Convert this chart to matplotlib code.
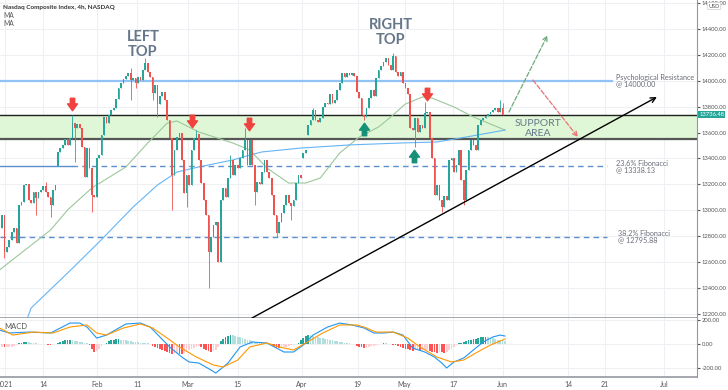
import matplotlib
matplotlib.use("Agg")
import matplotlib.pyplot as plt
from matplotlib.path import Path
from matplotlib.transforms import blended_transform_factory

# ---------------- data (4h candles, Nasdaq Composite) ----------------
closes = [12963, 12678, 12716, 12770, 12832, 12863, 12747, 13040, 13064, 13195,
          13203, 13079, 13056, 13141, 13094, 13141, 13156, 13187, 13141, 13102,
          13040, 13156, 13195, 13450, 13480, 13504, 13550, 13504, 13558, 13673,
          13635, 13666, 13635, 13488, 13257, 13480, 13326, 13118, 13102, 13403,
          13426, 13581, 13720, 13673, 13735, 13774, 13789, 13859, 13944, 13982,
          14013, 14036, 14059, 14005, 14021, 13982, 14029, 14005, 14083, 14137,
          14067, 14029, 13905, 13967, 13820, 13882, 13913, 13851, 13697, 13558,
          13272, 13465, 13565, 13596, 13388, 13133, 13272, 13195, 13465, 13558,
          13589, 13388, 13210, 13079, 12963, 12678, 12793, 12886, 12909, 12600,
          13079, 13172, 13102, 13249, 13388, 13272, 13349, 13326, 13403, 13465,
          13542, 13349, 13542, 13349, 13141, 13218, 13203, 13295, 13388, 13295,
          13249, 13118, 12963, 12824, 12909, 12979, 13040, 13118, 13056, 13033,
          13079, 13210, 13272, 13249, 13442, 13465, 13658, 13697, 13774, 13697,
          13681, 13712, 13797, 13828, 13820, 13897, 13828, 13851, 13928, 13982,
          14059, 14029, 14059, 14044, 14059, 14036, 13913, 13866, 13735, 13720,
          13789, 13866, 13928, 13882, 14021, 14083, 14113, 14144, 14175, 14121,
          14083, 14191, 14067, 14036, 14067, 13982, 13944, 13897, 13635, 13619,
          13712, 13604, 13658, 13635, 13751, 13758, 13558, 13403, 13118, 13195,
          13079, 13025, 13110, 13079, 13388, 13403, 13295, 13349, 13465, 13233,
          13079, 13311, 13465, 13542, 13504, 13465, 13658, 13697, 13712, 13727,
          13743, 13758, 13774, 13789, 13758, 13789, 13735, 13736.48]
open_gaps = {0: 12863, 23: 13341, 124: 13403, 126: 13581}
wick_highs = {18: 13218, 29: 13735, 33: 13619, 53: 14098, 59: 14175, 80: 13619,
              94: 13426, 100: 13635, 128: 13789, 161: 14214, 168: 13789,
              174: 13836, 205: 13851, 206: 13828}
wick_lows = {1: 12631, 14: 12963, 20: 12948, 30: 13372, 37: 12986, 53: 13851,
             55: 13944, 62: 13851, 64: 13720, 70: 13002, 76: 13025, 85: 12400,
             104: 13040, 113: 12793, 119: 12925, 149: 13697, 170: 13488,
             181: 12986, 190: 13040}

# moving averages (bar index, price)
ma_green_x = [-1, 20, 27, 37, 51, 60, 68, 72, 81, 95, 102, 109, 118, 125, 131,
              139, 147, 155, 160, 166, 173, 177, 186, 194, 207]
ma_green_y = [12539, 12847, 13002, 13172, 13334, 13519, 13673, 13689, 13604,
              13519, 13465, 13326, 13210, 13210, 13249, 13442, 13565, 13643,
              13720, 13820, 13874, 13866, 13797, 13720, 13619]
ma_blue_x = [10.5, 12, 27, 40, 54, 64, 72, 81, 95, 102, 107, 123, 143, 164, 179,
             191, 207]
ma_blue_y = [12168, 12245, 12515, 12755, 13025, 13195, 13295, 13334, 13388,
             13426, 13450, 13480, 13504, 13519, 13527, 13565, 13619]

# MACD pane
macd_x = [-1, 3, 11, 20, 28, 32, 35, 39, 43, 51, 57, 61, 65, 69, 74, 77, 81, 86,
          88, 93, 98, 103, 109, 113, 116, 120, 124, 128, 134, 139, 144, 149, 153,
          157, 161, 165, 169, 174, 178, 181, 183, 186, 190, 194, 198, 202, 205, 207]
macd_y = [114, 89, 97, 89, 172, 172, 139, 47, 72, 164, 172, 139, 56, -27, -111,
          -152, -161, -219, -244, -161, -27, 14, 6, -36, -69, -69, -11, 72, 139,
          172, 156, 131, 89, 89, 97, 72, -36, -69, -111, -161, -202, -152, -119,
          -52, 14, 56, 72, 64]
signal_x = [-1, 4.5, 13, 21, 28, 35, 39, 43, 50, 57, 62, 68, 73, 80, 87, 91, 97,
            102, 109, 114, 120, 125, 132, 139, 146, 149, 154, 161, 167, 172, 179,
            185, 190, 195, 201, 207]
signal_y = [131, 72, 97, 89, 139, 156, 89, 72, 131, 164, 131, 47, -27, -111, -177,
            -194, -136, -27, 6, -27, -52, 6, 89, 156, 156, 139, 97, 97, 47, -27,
            -111, -152, -136, -77, -11, 39]
hist = [-25, -30, -30, -28, -25, -20, -10, 5, 10, 15, 17, 12, 8, 3, 2, 1, 0, -2,
        -5, -8, -10, -6, -2, 8, 15, 22, 28, 30, 31, 28, 25, 22, 18, 15, 10, 5,
        -10, -40, -70, -60, -40, -20, 0, 10, 20, 28, 33, 36, 36, 34, 30, 27, 24,
        21, 18, 15, 12, 9, 6, 4, 2, -5, -15, -25, -35, -45, -55, -62, -67, -75,
        -83, -80, -78, -83, -85, -75, -65, -55, -45, -35, -25, -20, -30, -45,
        -55, -62, -67, -60, -50, -30, 20, 40, 55, 65, 72, 70, 65, 60, 55, 48,
        40, 35, 28, 20, 12, 8, 4, 2, 0, -2, -5, -15, -25, -35, -39, -35, -30,
        -25, -18, -12, -8, -3, 10, 30, 50, 65, 72, 70, 65, 60, 55, 50, 45, 40,
        36, 32, 28, 24, 20, 16, 12, 9, 6, 3, 1, -5, -15, -25, -30, -39, -35,
        -30, -22, -15, -10, -5, 0, 3, 2, -2, -5, -8, -12, -18, -25, -32, -40,
        -45, -55, -58, -55, -55, -60, -58, -55, -50, -60, -68, -72, -75, -70,
        -72, -75, -70, -55, -40, -25, -10, 5, 10, 15, 22, 30, 35, 36, 38, 45,
        52, 58, 58, 55, 50, 45, 40, 35, 30, 28, 25]

# levels
resistance = 14000.00
support_top = 13736.48
support_bottom = 13550
fib236 = 13338.13
fib382 = 12795.88

tick_pos = [1.2, 17, 39, 55.6, 76.5, 97, 123.5, 146.5, 165.7, 185.6, 206, 233,
            248, 272.4]
tick_lab = ["2021", "14", "Feb", "11", "Mar", "15", "Apr", "19", "May", "17",
            "Jun", "14", "21", "Jul"]

UP = "#26a69a"
DOWN = "#ef5350"
TXT = "#66778a"
plt.rcParams["font.family"] = ["Lato", "DejaVu Sans"]

fig = plt.figure(figsize=(7.28, 3.9), dpi=100)
ax = fig.add_axes([0, 72 / 390, 697 / 728, 318 / 390])
ax2 = fig.add_axes([0, 13 / 390, 697 / 728, 59 / 390], sharex=ax)

xmin, xmax = -0.8, 286
ax.set_xlim(xmin, xmax)
ax.set_ylim(12168, 14623)
ax2.set_ylim(-277, 214)

for a in (ax, ax2):
    for t in tick_pos:
        a.axvline(t, color="#eef0f4", lw=0.8, zorder=0)
    for s in ("top", "left"):
        a.spines[s].set_visible(False)
    a.spines["right"].set_color("#9598a1")
    a.spines["bottom"].set_color("#9598a1")
    a.spines["bottom"].set_linewidth(1.2)
    a.yaxis.tick_right()
    a.tick_params(axis="y", labelsize=4.2, colors="#555555", length=2, pad=1.5)
for p in range(12200, 14601, 200):
    ax.axhline(p, color="#eef0f4", lw=0.8, zorder=0)
for p in (-200, 0, 200):
    ax2.axhline(p, color="#eef0f4", lw=0.8, zorder=0)

ax.set_yticks(list(range(12200, 14601, 200)))
ax.set_yticklabels(["%.2f" % v for v in range(12200, 14601, 200)])
ax.tick_params(axis="x", length=0, labelbottom=False)
ax2.set_yticks([-200, 0, 200])
ax2.set_yticklabels(["-200.00", "0.00", "200.00"])
ax2.set_xticks(tick_pos)
ax2.set_xticklabels(tick_lab)
ax2.tick_params(axis="x", labelsize=5, colors="#555555", length=0, pad=3)

# support area
ax.axhspan(support_bottom, support_top, color="#dff7d6", zorder=1)
ax.axhline(support_top, color="#222222", lw=1.0, zorder=2)
ax.axhline(support_bottom, color="#555555", lw=1.6, zorder=2)

# horizontal levels
lv_end = 251
ax.plot([xmin, lv_end], [resistance, resistance], color="#90c2f5", lw=1.6, zorder=2)
ax.plot([xmin, 28.8], [fib236, fib236], color="#5b8fd0", lw=1.0, zorder=2)
ax.plot([28.8, 249], [fib236, fib236], color="#5b8fd0", lw=1.0, ls=(0, (4, 3)), zorder=2)
ax.plot([xmin, 249], [fib382, fib382], color="#5b8fd0", lw=1.0, ls=(0, (4, 3)), zorder=2)

# moving averages
ax.plot(ma_green_x, ma_green_y, color="#9cc79a", lw=0.8, zorder=3)
ax.plot(ma_blue_x, ma_blue_y, color="#64b5f6", lw=0.8, zorder=3)

# candles
prev = closes[0]
for i, c in enumerate(closes):
    o = open_gaps.get(i, prev)
    hi = wick_highs.get(i, max(o, c))
    lo = wick_lows.get(i, min(o, c))
    col = UP if c >= o else DOWN
    ax.vlines(i, lo, hi, color=col, lw=0.6, zorder=4)
    ax.bar(i, abs(c - o) if abs(c - o) > 4 else 4, bottom=min(o, c), width=0.7,
           color=col, zorder=5, linewidth=0)
    prev = c

# trend line and projections
ax.annotate("", xy=(269.5, 13874), xytext=(102.9, 12168),
            arrowprops=dict(arrowstyle="->", color="black", lw=1.0,
                            shrinkA=0, shrinkB=0, mutation_scale=9), zorder=6)
ax.annotate("", xy=(224.5, 14350), xytext=(208.6, 13758),
            arrowprops=dict(arrowstyle="->", color="#6aaa7a", lw=0.9, ls="--",
                            shrinkA=0, shrinkB=0, mutation_scale=8), zorder=6)
ax.annotate("", xy=(237, 13565), xytext=(218.5, 14005),
            arrowprops=dict(arrowstyle="->", color="#e57373", lw=0.9, ls="--",
                            shrinkA=0, shrinkB=0, mutation_scale=8), zorder=6)

# block arrows
down_arrow = Path([(-0.35, 1), (0.35, 1), (0.35, 0.1), (0.8, 0.1), (0, -1),
                   (-0.8, 0.1), (-0.35, 0.1), (-0.35, 1)], closed=True)
up_arrow = Path([(x, -y) for x, y in down_arrow.vertices], closed=True)
for x, y in [(28.8, 13820), (78.2, 13689), (101.6, 13666), (174.9, 13897)]:
    ax.plot(x, y, marker=down_arrow, color="#f0433f", markersize=9, zorder=7)
for x, y in [(149, 13625), (169.5, 13420)]:
    ax.plot(x, y, marker=up_arrow, color="#17907a", markersize=9, zorder=7)

# labels on chart
ax.text(58, 14170, "LEFT\nTOP", ha="center", va="bottom", fontsize=10.5,
        fontweight="bold", color=TXT, linespacing=1.05, zorder=8)
ax.text(160, 14260, "RIGHT\nTOP", ha="center", va="bottom", fontsize=10.5,
        fontweight="bold", color=TXT, linespacing=1.05, zorder=8)
ax.text(220.5, 13630, "SUPPORT\nAREA", ha="center", va="center", fontsize=7.5,
        color=TXT, linespacing=1.1, zorder=8)
side = dict(fontsize=5.2, color="#6a6d78", ha="left", va="center",
            linespacing=0.95, zorder=8)
ax.text(252.5, 14000, "Psychological Resistance\n@ 14000.00", **side)
ax.text(252.5, 13338, "23.6% Fibonacci\n@ 13338.13", **side)
ax.text(253.5, 12796, "38.2% Fibonacci\n@ 12795.88", **side)

# current price label
tr = blended_transform_factory(ax.transAxes, ax.transData)
ax.text(1.003, closes[-1], "%.2f" % closes[-1], transform=tr, fontsize=4.2,
        color="white", ha="left", va="center", clip_on=False,
        bbox=dict(boxstyle="square,pad=0.2", fc=UP, ec="none"), zorder=9)
fig.text(714 / 728, 1 - 6 / 390, "USD", fontsize=4, color="#555555",
         ha="center", va="center", zorder=10,
         bbox=dict(boxstyle="round,pad=0.2", fc="white", ec="#cccccc", lw=0.5))

fig.text(3 / 728, 1 - 7 / 390, "Nasdaq Composite Index, 4h, NASDAQ", fontsize=4.6,
         fontweight="bold", color="#333333", ha="left", va="center")
fig.text(3 / 728, 1 - 15 / 390, "MA", fontsize=4.8, color="#555555", ha="left", va="center")
fig.text(3 / 728, 1 - 23 / 390, "MA", fontsize=4.8, color="#555555", ha="left", va="center")

# MACD
hcols = []
for i, h in enumerate(hist):
    p = hist[i - 1] if i > 0 else h
    if h >= 0:
        hcols.append(UP if h >= p else "#b2dfdb")
    else:
        hcols.append("#ff5252" if h < p else "#ffcdd2")
ax2.bar(range(len(hist)), hist, width=0.7, color=hcols, linewidth=0, zorder=2)
ax2.plot(macd_x, macd_y, color="#2196f3", lw=0.8, zorder=3)
ax2.plot(signal_x, signal_y, color="#ff9800", lw=0.8, zorder=3)
ax2.text(4 / 697, 0.85, "MACD", transform=ax2.transAxes, fontsize=5.5,
         color="#555555", ha="left", va="center")

fig.savefig("out.png", dpi=100)
